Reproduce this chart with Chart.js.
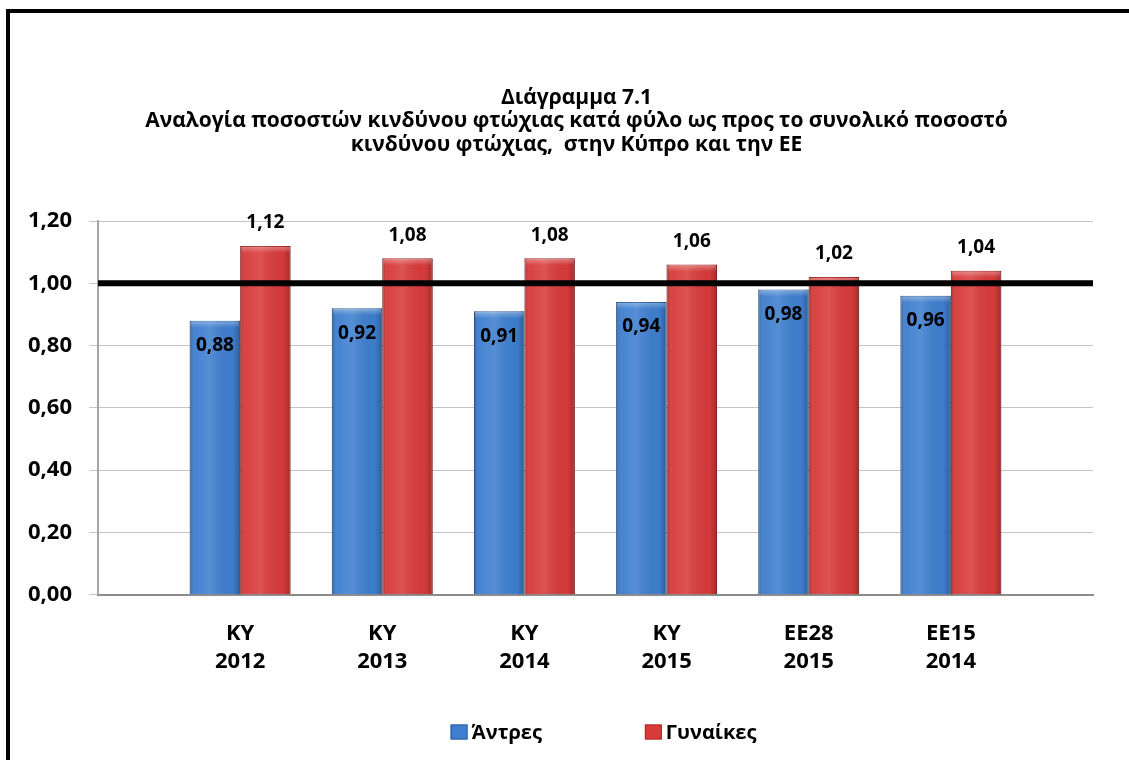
<!DOCTYPE html>
<html>
<head>
<meta charset="utf-8">
<script src="https://cdn.jsdelivr.net/npm/chart.js@4"></script>
<style>
  html, body { margin: 0; padding: 0; background: #fff; overflow: hidden; }
  #wrap { width: 1129px; height: 760px; }
</style>
</head>
<body>
<div id="wrap"><canvas id="chart"></canvas></div>
<script>
// Data
const categories = [['ΚΥ', '2012'], ['ΚΥ', '2013'], ['ΚΥ', '2014'], ['ΚΥ', '2015'], ['ΕΕ28', '2015'], ['ΕΕ15', '2014']];
const menValues = [0.88, 0.92, 0.91, 0.94, 0.98, 0.96];
const womenValues = [1.12, 1.08, 1.08, 1.06, 1.02, 1.04];
const seriesNames = ['Άντρες', 'Γυναίκες'];
const referenceLevel = 1.0;
const yMin = 0;
const yMax = 1.2;
const yStep = 0.2;
const titleLines = [
  'Διάγραμμα 7.1',
  'Αναλογία ποσοστών κινδύνου φτώχιας κατά φύλο ως προς το συνολικό ποσοστό',
  'κινδύνου φτώχιας,  στην Κύπρο και την ΕΕ'
];

const COLORS = {
  blue: '#3f7fcf',
  blueEdge: '#2d5f9e',
  red: '#d93b3b',
  redEdge: '#a82a2b',
  grid: '#c4c4c4',
  axis: '#8c8c8c',
};

const FONT = '"Open Sans", "Noto Sans", sans-serif';

// Format helpers
function formatValue(v) {
  return v.toFixed(2).replace('.', ',');
}

// category i sits at x = i + 1, leaving an empty slot at both ends
function toPoints(values) {
  return values.map((v, i) => ({ x: i + 1, y: v }));
}

// Frame round the whole picture
const frame = {
  id: 'frame',
  beforeDraw(chart) {
    const ctx = chart.ctx;
    ctx.save();
    ctx.fillStyle = '#fff';
    ctx.fillRect(0, 0, chart.width, chart.height);
    ctx.strokeStyle = '#000';
    ctx.lineWidth = 4;
    ctx.strokeRect(8, 11, chart.width + 40, chart.height + 40);
    ctx.restore();
  }
};

// Title, centred a little right of the canvas middle as in the original
const titleBlock = {
  id: 'titleBlock',
  afterDraw(chart) {
    const ctx = chart.ctx;
    ctx.save();
    ctx.font = 'bold 21px ' + FONT;
    ctx.fillStyle = '#000';
    ctx.textAlign = 'center';
    ctx.textBaseline = 'middle';
    titleLines.forEach((line, i) => {
      ctx.fillText(line, chart.width / 2 + 12, 98 + i * 23.5);
    });
    ctx.restore();
  }
};

// Rounded shading over each bar, like the bevelled bars of the original
const barShade = {
  id: 'barShade',
  afterDatasetsDraw(chart) {
    const ctx = chart.ctx;
    ctx.save();
    chart.data.datasets.forEach((ds, di) => {
      chart.getDatasetMeta(di).data.forEach(bar => {
        const left = bar.x - bar.width / 2;
        const top = Math.min(bar.y, bar.base);
        const h = Math.abs(bar.base - bar.y);
        const g = ctx.createLinearGradient(left, 0, left + bar.width, 0);
        g.addColorStop(0, 'rgba(0,0,0,0.22)');
        g.addColorStop(0.12, 'rgba(255,255,255,0.04)');
        g.addColorStop(0.4, 'rgba(255,255,255,0.12)');
        g.addColorStop(0.85, 'rgba(0,0,0,0.02)');
        g.addColorStop(1, 'rgba(0,0,0,0.25)');
        ctx.fillStyle = g;
        ctx.fillRect(left, top, bar.width, h);
        const cap = ctx.createLinearGradient(0, top, 0, top + 7);
        cap.addColorStop(0, 'rgba(255,255,255,0.35)');
        cap.addColorStop(1, 'rgba(255,255,255,0)');
        ctx.fillStyle = cap;
        ctx.fillRect(left + 1, top + 1, bar.width - 2, 7);
      });
    });
    ctx.restore();
  }
};

// Thick line at the overall level
const referenceLine = {
  id: 'referenceLine',
  afterDatasetsDraw(chart) {
    const { ctx, chartArea, scales } = chart;
    const y = scales.y.getPixelForValue(referenceLevel);
    ctx.save();
    ctx.strokeStyle = '#000';
    ctx.lineWidth = 6;
    ctx.beginPath();
    ctx.moveTo(chartArea.left, y);
    ctx.lineTo(chartArea.right, y);
    ctx.stroke();
    ctx.restore();
  }
};

// Value labels: inside the blue bars, above the red ones
const valueLabels = {
  id: 'valueLabels',
  afterDatasetsDraw(chart) {
    const ctx = chart.ctx;
    ctx.save();
    ctx.font = 'bold 19px ' + FONT;
    ctx.fillStyle = '#000';
    ctx.textAlign = 'center';
    ctx.textBaseline = 'middle';
    chart.data.datasets.forEach((ds, di) => {
      chart.getDatasetMeta(di).data.forEach((bar, i) => {
        const y = di === 0 ? bar.y + 25 : bar.y - 23;
        ctx.fillText(formatValue(ds.data[i].y), bar.x, y);
      });
    });
    ctx.restore();
  }
};

// Legend below the axis labels
const bottomLegend = {
  id: 'bottomLegend',
  afterDraw(chart) {
    const { ctx, chartArea } = chart;
    const boxW = 17, boxH = 15, gap = 4, between = 103;
    const y = 732;
    ctx.save();
    ctx.font = 'bold 20px ' + FONT;
    ctx.textBaseline = 'middle';
    const items = chart.data.datasets.map(ds => ({
      text: ds.label,
      color: ds.backgroundColor,
      edge: ds.borderColor,
      width: boxW + gap + ctx.measureText(ds.label).width
    }));
    const total = items.reduce((s, it) => s + it.width, 0) + between * (items.length - 1);
    let x = (chartArea.left + chartArea.right) / 2 - total / 2 + 8;
    items.forEach(it => {
      ctx.fillStyle = it.color;
      ctx.fillRect(x, y - boxH / 2, boxW, boxH);
      ctx.strokeStyle = it.edge;
      ctx.lineWidth = 1;
      ctx.strokeRect(x + 0.5, y - boxH / 2 + 0.5, boxW - 1, boxH - 1);
      ctx.fillStyle = '#000';
      ctx.fillText(it.text, x + boxW + gap, y + 1);
      x += it.width + between;
    });
    ctx.restore();
  }
};

const ctx = document.getElementById('chart').getContext('2d');

new Chart(ctx, {
  type: 'bar',
  data: {
    datasets: [
      {
        label: seriesNames[0],
        data: toPoints(menValues),
        backgroundColor: COLORS.blue,
        borderColor: COLORS.blueEdge,
        borderWidth: 1,
      },
      {
        label: seriesNames[1],
        data: toPoints(womenValues),
        backgroundColor: COLORS.red,
        borderColor: COLORS.redEdge,
        borderWidth: 1,
      },
    ],
  },
  options: {
    responsive: true,
    maintainAspectRatio: false,
    animation: false,
    categoryPercentage: 0.71,
    barPercentage: 1.0,
    layout: {
      padding: { left: 0, right: 36, top: 221, bottom: 67 },
    },
    plugins: {
      legend: { display: false },
      tooltip: { enabled: false },
      title: { display: false },
    },
    scales: {
      x: {
        type: 'linear',
        offset: false,
        min: 0,
        max: categories.length + 1,
        grid: { display: false },
        border: { display: true, color: COLORS.axis, width: 2 },
        ticks: {
          stepSize: 1,
          autoSkip: false,
          maxRotation: 0,
          padding: 17,
          color: '#000',
          font: { family: FONT, size: 22, weight: 'bold', lineHeight: 1.28 },
          callback: (v) => (Number.isInteger(v) && categories[v - 1]) ? categories[v - 1] : '',
        },
      },
      y: {
        min: yMin,
        max: yMax,
        afterFit: (scale) => { scale.width = 98; },
        grid: { color: COLORS.grid, lineWidth: 1, tickLength: 9, drawTicks: true },
        border: { display: true, color: '#a6a6a6', width: 2 },
        ticks: {
          stepSize: yStep,
          padding: 17,
          color: '#000',
          font: { family: FONT, size: 22, weight: 'bold' },
          callback: (v) => formatValue(v),
        },
      },
    },
  },
  plugins: [frame, barShade, referenceLine, valueLabels, titleBlock, bottomLegend],
});
</script>
</body>
</html>
